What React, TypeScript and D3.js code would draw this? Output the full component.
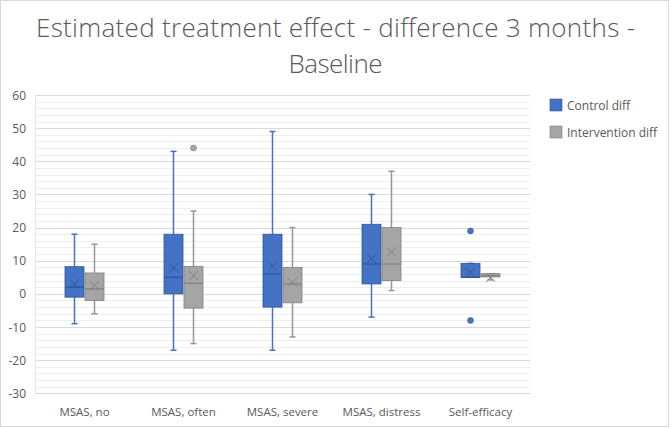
import React from "react";
import * as d3 from "d3";

const categories = ["MSAS, no", "MSAS, often", "MSAS, severe", "MSAS, distress", "Self-efficacy"];
const seriesNames = ["Control diff", "Intervention diff"];

const controlMin = [-9, -17, -17, -7, 5];
const controlQ1 = [-1, 0, -4, 3, 5];
const controlMedian = [2, 5, 6, 9, 5];
const controlQ3 = [8.2, 18, 18, 21, 9.2];
const controlMax = [18, 43, 49, 30, 9.2];
const controlMean = [3, 7.8, 8.4, 10.6, 6.5];
const controlOutliers = [[], [], [], [], [19, -8]];

const interventionMin = [-6, -15, -13, 1, 4.2];
const interventionQ1 = [-2, -4.3, -2.7, 4, 5.1];
const interventionMedian = [1.5, 3.2, 3, 9, 5.5];
const interventionQ3 = [6.3, 8.3, 8, 20, 6.1];
const interventionMax = [15, 25, 20, 37, 6.1];
const interventionMean = [2.5, 5.5, 3.5, 12.6, 5];
const interventionOutliers = [[], [44], [], [], []];

const yTicks = [-30, -20, -10, 0, 10, 20, 30, 40, 50, 60];

const W = 672;
const H = 428;
const FONT = "'Open Sans', 'Noto Sans', sans-serif";
const TXT = "#595959";

export default function App() {
  const x = d3.scaleBand<string>().domain(categories).range([35, 530]);
  const y = d3.scaleLinear().domain([-30, 60]).range([393.3, 95]);
  const minorTicks = d3.range(-30, 61, 2).filter((v) => v % 10 !== 0);

  const series = [
    {
      name: seriesNames[0],
      fill: "#4472C4",
      stroke: "#2F5597",
      whisker: "#4472C4",
      min: controlMin, q1: controlQ1, med: controlMedian, q3: controlQ3, max: controlMax,
      mean: controlMean, out: controlOutliers, offset: -10,
    },
    {
      name: seriesNames[1],
      fill: "#A5A5A5",
      stroke: "#7F7F7F",
      whisker: "#969696",
      min: interventionMin, q1: interventionQ1, med: interventionMedian, q3: interventionQ3, max: interventionMax,
      mean: interventionMean, out: interventionOutliers, offset: 10,
    },
  ];
  const boxW = 19;
  const capW = 6;

  return (
    <div style={{ position: "fixed", left: 0, top: 0 }}>
      <svg width={W} height={H} style={{ display: "block", background: "#fff" }}>
        <rect x={0.5} y={0.5} width={668} height={426} fill="#fff" stroke="#D9D9D9" />
        <text x={335.5} y={36.5} textAnchor="middle" fontFamily={FONT} fontWeight={300} fontSize={26} fill={TXT}
          textLength={599} lengthAdjust="spacing">
          Estimated treatment effect - difference 3 months -
        </text>
        <text x={335.5} y={73.3} textAnchor="middle" fontFamily={FONT} fontWeight={300} fontSize={26} fill={TXT}
          textLength={94} lengthAdjust="spacing">
          Baseline
        </text>
        {minorTicks.map((t) => (
          <line key={"m" + t} x1={35} x2={530} y1={Math.round(y(t)) + 0.5} y2={Math.round(y(t)) + 0.5} stroke="#EEEEEE" />
        ))}
        {yTicks.map((t) => (
          <line key={"g" + t} x1={35} x2={530} y1={Math.round(y(t)) + 0.5} y2={Math.round(y(t)) + 0.5} stroke="#D9D9D9" />
        ))}
        <line x1={35.5} x2={35.5} y1={y(60)} y2={y(-30)} stroke="#E6E6E6" />
        {yTicks.map((t) => (
          <text key={"t" + t} x={26} y={y(t) + 4.5} textAnchor="end" fontFamily={FONT} fontSize={12} fill={TXT}>
            {t}
          </text>
        ))}
        {categories.map((c) => (
          <text key={c} x={(x(c) as number) + x.bandwidth() / 2} y={416} textAnchor="middle" fontFamily={FONT} fontSize={11.5} fill={TXT}>
            {c}
          </text>
        ))}
        {series.map((s) =>
          categories.map((c, i) => {
            const cx = (x(c) as number) + x.bandwidth() / 2 + s.offset;
            const mx = y(s.mean[i]);
            return (
              <g key={s.name + c}>
                <line x1={cx} x2={cx} y1={y(s.max[i])} y2={y(s.q3[i])} stroke={s.whisker} strokeWidth={1.5} />
                <line x1={cx} x2={cx} y1={y(s.q1[i])} y2={y(s.min[i])} stroke={s.whisker} strokeWidth={1.5} />
                <line x1={cx - capW / 2} x2={cx + capW / 2} y1={y(s.max[i])} y2={y(s.max[i])} stroke={s.whisker} strokeWidth={1.5} />
                <line x1={cx - capW / 2} x2={cx + capW / 2} y1={y(s.min[i])} y2={y(s.min[i])} stroke={s.whisker} strokeWidth={1.5} />
                <rect x={cx - boxW / 2} y={y(s.q3[i])} width={boxW} height={Math.max(1, y(s.q1[i]) - y(s.q3[i]))}
                  fill={s.fill} stroke={s.stroke} strokeWidth={0.8} />
                <line x1={cx - boxW / 2} x2={cx + boxW / 2} y1={y(s.med[i])} y2={y(s.med[i])} stroke={s.stroke} strokeWidth={1.2} />
                <path d={`M${cx - 4.5},${mx - 4.5}L${cx + 4.5},${mx + 4.5}M${cx - 4.5},${mx + 4.5}L${cx + 4.5},${mx - 4.5}`}
                  stroke={s.stroke} strokeWidth={1} fill="none" />
                {s.out[i].map((o, k) => (
                  <circle key={k} cx={cx} cy={y(o)} r={3} fill={s.fill} stroke={s.stroke} strokeWidth={0.5} />
                ))}
              </g>
            );
          })
        )}
        {series.map((s, i) => (
          <g key={"lg" + i}>
            <rect x={550} y={99 + i * 27} width={12} height={12} fill={s.fill} stroke={s.stroke} strokeWidth={0.6} />
            <text x={567} y={109.5 + i * 27} fontFamily={FONT} fontSize={12} fill={TXT}>
              {s.name}
            </text>
          </g>
        ))}
      </svg>
    </div>
  );
}
